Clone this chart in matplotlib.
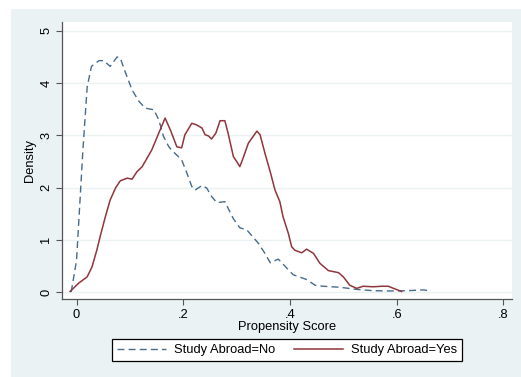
import matplotlib
matplotlib.use("Agg")
import matplotlib.pyplot as plt
from matplotlib.patches import Rectangle
from matplotlib.lines import Line2D

# kernel density of propensity score, by study-abroad status
no_x = [-0.010, 0.000, 0.012, 0.020, 0.028, 0.042, 0.051, 0.063, 0.076, 0.082,
        0.091, 0.104, 0.117, 0.129, 0.145, 0.154, 0.163, 0.173, 0.178, 0.197,
        0.206, 0.216, 0.222, 0.235, 0.244, 0.253, 0.263, 0.278, 0.294, 0.306,
        0.319, 0.341, 0.353, 0.363, 0.378, 0.391, 0.406, 0.431, 0.447, 0.462,
        0.494, 0.525, 0.556, 0.587, 0.619, 0.650, 0.660]
no_y = [0.00, 0.60, 2.72, 3.93, 4.32, 4.43, 4.43, 4.32, 4.50, 4.48,
        4.22, 3.87, 3.65, 3.52, 3.49, 3.30, 2.98, 2.78, 2.72, 2.53,
        2.30, 2.02, 1.95, 2.04, 1.99, 1.83, 1.71, 1.73, 1.40, 1.23,
        1.19, 0.93, 0.74, 0.56, 0.63, 0.49, 0.33, 0.24, 0.13, 0.11,
        0.09, 0.05, 0.025, 0.02, 0.025, 0.04, 0.025]

yes_x = [-0.012, 0.004, 0.020, 0.029, 0.038, 0.045, 0.054, 0.063, 0.073, 0.082,
         0.095, 0.104, 0.113, 0.123, 0.132, 0.141, 0.154, 0.166, 0.176, 0.188,
         0.197, 0.203, 0.216, 0.225, 0.235, 0.241, 0.247, 0.253, 0.261, 0.269,
         0.278, 0.284, 0.294, 0.300, 0.306, 0.312, 0.322, 0.338, 0.344, 0.353,
         0.363, 0.372, 0.381, 0.387, 0.397, 0.403, 0.409, 0.422, 0.431, 0.444,
         0.456, 0.472, 0.491, 0.500, 0.512, 0.525, 0.537, 0.556, 0.572, 0.584,
         0.594, 0.609]
yes_y = [0.01, 0.17, 0.29, 0.48, 0.80, 1.09, 1.44, 1.76, 1.99, 2.13,
         2.18, 2.16, 2.30, 2.40, 2.56, 2.72, 3.04, 3.33, 3.10, 2.78,
         2.76, 3.01, 3.23, 3.20, 3.14, 3.01, 2.99, 2.93, 3.04, 3.28,
         3.28, 3.04, 2.59, 2.50, 2.40, 2.56, 2.85, 3.08, 3.01, 2.66,
         2.30, 1.95, 1.73, 1.44, 1.12, 0.87, 0.80, 0.75, 0.82, 0.74,
         0.55, 0.41, 0.37, 0.29, 0.13, 0.07, 0.11, 0.10, 0.11, 0.11,
         0.07, 0.01]

x_ticks = [0, 0.2, 0.4, 0.6, 0.8]
x_labels = ["0", ".2", ".4", ".6", ".8"]
y_ticks = [0, 1, 2, 3, 4, 5]

NAVY = "#1a476f"
MAROON = "#90353b"
BG = "#eaf2f3"

plt.rcParams["font.family"] = ["Liberation Sans", "DejaVu Sans"]
plt.rcParams["font.size"] = 9.3

fig = plt.figure(figsize=(5.21, 3.77), dpi=100, facecolor="white")
fig.patches.append(Rectangle((11 / 521, 0), 1, 368 / 377, transform=fig.transFigure,
                             facecolor=BG, edgecolor="none", zorder=-10))

ax = fig.add_axes([62 / 521, 78 / 377, 450 / 521, 277 / 377])
ax.set_facecolor("white")

ax.plot(no_x, no_y, color=NAVY, lw=1.0, linestyle=(0, (5, 3)), alpha=0.8,
        solid_joinstyle="round")
ax.plot(yes_x, yes_y, color=MAROON, lw=1.1, solid_joinstyle="round")

ax.set_xlim(-0.0272, 0.816)
ax.set_ylim(-0.134, 5.17)
ax.set_xticks(x_ticks)
ax.set_xticklabels(x_labels)
ax.set_yticks(y_ticks)
ax.set_yticklabels([str(v) for v in y_ticks], rotation=90, va="center")
ax.grid(axis="y", color=BG, lw=1.0)
ax.set_axisbelow(True)

for side in ("top", "right"):
    ax.spines[side].set_visible(False)
for side in ("left", "bottom"):
    ax.spines[side].set_color("#555555")
    ax.spines[side].set_linewidth(0.9)
ax.tick_params(direction="out", length=4, width=0.8, color="#555555", pad=3)

ax.set_xlabel("Propensity Score", labelpad=0)
ax.set_ylabel("Density", labelpad=3)

handles = [Line2D([], [], color=NAVY, lw=1.0, linestyle=(0, (5, 3)), alpha=0.8),
           Line2D([], [], color=MAROON, lw=1.1)]
leg = fig.legend(handles, ["Study Abroad=No", "Study Abroad=Yes"], ncol=2,
                 loc="lower left", bbox_to_anchor=(106 / 521, 10 / 377, 362 / 521, 24 / 377),
                 mode="expand", fancybox=False, framealpha=1, edgecolor="black",
                 handlelength=3.8, handletextpad=0.6, borderpad=0.35, columnspacing=2.0)
leg.get_frame().set_linewidth(0.9)

fig.savefig("out.png", dpi=100, facecolor="white")
